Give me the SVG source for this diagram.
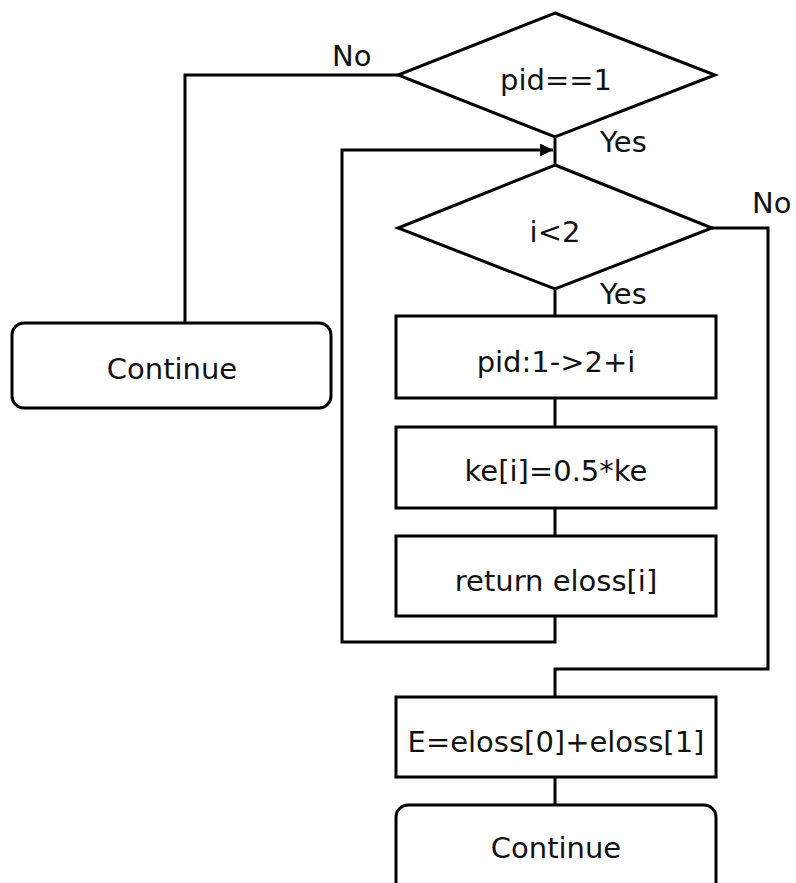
<svg xmlns="http://www.w3.org/2000/svg" width="796" height="883" viewBox="0 0 796 883">
  <style>
    .shape { fill: #ffffff; stroke: #000000; stroke-width: 3; }
    .wire { fill: none; stroke: #000000; stroke-width: 3; }
    .label { font-family: "DejaVu Sans", "Noto Sans", sans-serif; font-size: 29px; fill: #111111; text-anchor: middle; dominant-baseline: central; }
    .tag { font-family: "DejaVu Sans", "Noto Sans", sans-serif; font-size: 29px; fill: #111111; dominant-baseline: central; }
  </style>
  <defs>
    <marker id="arrow" viewBox="0 0 10 10" refX="10" refY="5" markerWidth="14" markerHeight="13" markerUnits="userSpaceOnUse" orient="auto">
      <path d="M0,0 L10,5 L0,10 z" fill="#000000"/>
    </marker>
  </defs>
  <rect width="796" height="883" fill="#ffffff"/>

  <g id="connectors">
    <!-- pid==1 No branch to left Continue -->
    <polyline class="wire" points="398,75 185,75 185,323"/>
    <!-- pid==1 Yes down to i<2 -->
    <line class="wire" x1="555" y1="137" x2="555" y2="165"/>
    <!-- i<2 Yes to first box -->
    <line class="wire" x1="555" y1="289" x2="555" y2="316"/>
    <line class="wire" x1="555" y1="398" x2="555" y2="427"/>
    <line class="wire" x1="555" y1="508" x2="555" y2="536"/>
    <!-- loop back -->
    <polyline class="wire" points="555,616 555,642 342,642 342,150 553,150" marker-end="url(#arrow)"/>
    <!-- i<2 No branch -->
    <polyline class="wire" points="712,228 768,228 768,669 555,669 555,697"/>
    <line class="wire" x1="555" y1="777" x2="555" y2="805"/>
  </g>

  <g id="decision-pid">
    <polygon class="shape" points="555,13 715,75 555,137 398,75"/>
    <text class="label" x="556" y="80">pid==1</text>
  </g>
  <g id="decision-i">
    <polygon class="shape" points="555,165 712,228 555,289 398,228"/>
    <text class="label" x="555" y="232">i&lt;2</text>
  </g>
  <g id="continue-left">
    <rect class="shape" x="12" y="323" width="319" height="85" rx="12"/>
    <text class="label" x="172" y="369">Continue</text>
  </g>
  <g id="set-pid">
    <rect class="shape" x="396" y="316" width="320" height="82"/>
    <text class="label" x="556" y="362">pid:1-&gt;2+i</text>
  </g>
  <g id="set-ke">
    <rect class="shape" x="396" y="427" width="320" height="81"/>
    <text class="label" x="556" y="471">ke[i]=0.5*ke</text>
  </g>
  <g id="return-eloss">
    <rect class="shape" x="396" y="536" width="320" height="80"/>
    <text class="label" x="556" y="581">return eloss[i]</text>
  </g>
  <g id="sum-eloss">
    <rect class="shape" x="396" y="697" width="320" height="80"/>
    <text class="label" x="556" y="742">E=eloss[0]+eloss[1]</text>
  </g>
  <g id="continue-bottom">
    <rect class="shape" x="396" y="805" width="320" height="90" rx="12"/>
    <text class="label" x="556" y="848">Continue</text>
  </g>

  <g id="branch-labels">
    <text class="tag" x="332" y="56">No</text>
    <text class="tag" x="600" y="142">Yes</text>
    <text class="tag" x="752" y="203">No</text>
    <text class="tag" x="600" y="294">Yes</text>
  </g>
</svg>
